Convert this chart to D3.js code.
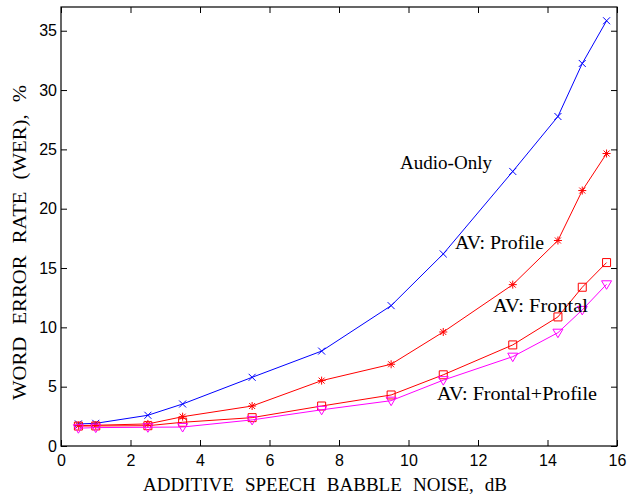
<!DOCTYPE html>
<html>
<head>
<meta charset="utf-8">
<script src="https://cdn.jsdelivr.net/npm/d3@7"></script>
<style>
  body { margin: 0; background: #fff; }
  .tick text { font-family: "Liberation Sans", Arial, sans-serif; font-size: 16px; fill: #000; }
  .lbl { font-family: "Liberation Serif", "Times New Roman", serif; fill: #000; }
</style>
</head>
<body>
<svg id="chart" width="643" height="494"></svg>
<script>
// noise levels (dB)
const noise = [0.5, 1, 2.5, 3.5, 5.5, 7.5, 9.5, 11, 13, 14.3, 15, 15.7];
// WER values, %
const audioOnly = [1.86, 1.91, 2.59, 3.54, 5.79, 8.0, 11.83, 16.19, 23.14, 27.77, 32.24, 35.84];
const avProfile = [1.72, 1.75, 1.86, 2.47, 3.37, 5.51, 6.89, 9.61, 13.6, 17.32, 21.53, 24.65];
const avFrontal = [1.68, 1.69, 1.71, 2.0, 2.39, 3.37, 4.3, 6.0, 8.52, 10.88, 13.38, 15.46];
const avFrontProf = [1.5, 1.55, 1.58, 1.6, 2.2, 3.05, 3.82, 5.55, 7.53, 9.55, 11.47, 13.63];
const xTicks = [0, 2, 4, 6, 8, 10, 12, 14, 16];
const yTicks = [0, 5, 10, 15, 20, 25, 30, 35];

const margin = {top: 7, right: 26, bottom: 48, left: 61};
const width = 643 - margin.left - margin.right;
const height = 494 - margin.top - margin.bottom;

const svg = d3.select("#chart")
  .append("g")
  .attr("transform", `translate(${margin.left},${margin.top})`);

const x = d3.scaleLinear().domain([0, 16]).range([0, width]);
const y = d3.scaleLinear().domain([0, 37]).range([height, 0]);

// axes, ticks inside on all four sides
svg.append("g")
  .attr("transform", `translate(0,${height})`)
  .call(d3.axisBottom(x).tickValues(xTicks).tickSize(-6).tickPadding(9).tickSizeOuter(0));
svg.append("g")
  .call(d3.axisTop(x).tickValues(xTicks).tickSize(-6).tickFormat("").tickSizeOuter(0));
svg.append("g")
  .call(d3.axisLeft(y).tickValues(yTicks).tickSize(-6).tickPadding(4).tickSizeOuter(0));
svg.append("g")
  .attr("transform", `translate(${width},0)`)
  .call(d3.axisRight(y).tickValues(yTicks).tickSize(-6).tickFormat("").tickSizeOuter(0));
svg.selectAll(".domain").remove();
svg.selectAll(".tick line").attr("stroke", "#000");

svg.append("rect")
  .attr("width", width).attr("height", height)
  .attr("fill", "none").attr("stroke", "#000").attr("stroke-width", 1.2);

const line = d3.line().x((d, i) => x(noise[i])).y(d => y(d));

const series = [
  {vals: audioOnly, color: "#0000ff", mark: "x"},
  {vals: avProfile, color: "#ff0000", mark: "star"},
  {vals: avFrontal, color: "#ff0000", mark: "square"},
  {vals: avFrontProf, color: "#ff00ff", mark: "tri"}
];

function markPath(m) {
  if (m === "x") return "M-3.5,-3.5L3.5,3.5M-3.5,3.5L3.5,-3.5";
  if (m === "star") return "M-4,0L4,0M0,-4L0,4M-3,-3L3,3M-3,3L3,-3";
  if (m === "square") return "M-4,-4H4V4H-4Z";
  return "M-5,-3.5H5L0,5Z";
}

series.forEach(s => {
  svg.append("path")
    .datum(s.vals)
    .attr("d", line)
    .attr("fill", "none")
    .attr("stroke", s.color)
    .attr("stroke-width", 1);
  svg.selectAll(null)
    .data(s.vals)
    .enter()
    .append("path")
    .attr("transform", (d, i) => `translate(${x(noise[i])},${y(d)})`)
    .attr("d", markPath(s.mark))
    .attr("fill", "none")
    .attr("stroke", s.color)
    .attr("stroke-width", 1);
});

// curve labels
const labels = [
  {t: "Audio-Only", x: 339, y: 162, w: 92},
  {t: "AV: Profile", x: 394, y: 242, w: 89},
  {t: "AV: Frontal", x: 432, y: 305, w: 95},
  {t: "AV: Frontal+Profile", x: 376, y: 393, w: 160}
];
svg.selectAll(".curve")
  .data(labels)
  .enter()
  .append("text")
  .attr("class", "lbl curve")
  .attr("x", d => d.x)
  .attr("y", d => d.y)
  .attr("font-size", 19)
  .attr("textLength", d => d.w)
  .attr("lengthAdjust", "spacingAndGlyphs")
  .text(d => d.t);

// axis titles
d3.select("#chart").append("text")
  .attr("class", "lbl")
  .attr("x", 143).attr("y", 491)
  .attr("font-size", 18)
  .attr("word-spacing", 6)
  .attr("textLength", 364)
  .attr("lengthAdjust", "spacingAndGlyphs")
  .text("ADDITIVE SPEECH BABBLE NOISE, dB");

d3.select("#chart").append("text")
  .attr("class", "lbl")
  .attr("transform", "translate(26,400) rotate(-90)")
  .attr("font-size", 18)
  .attr("word-spacing", 6)
  .attr("textLength", 315)
  .attr("lengthAdjust", "spacingAndGlyphs")
  .text("WORD ERROR RATE (WER), %");
</script>
</body>
</html>
